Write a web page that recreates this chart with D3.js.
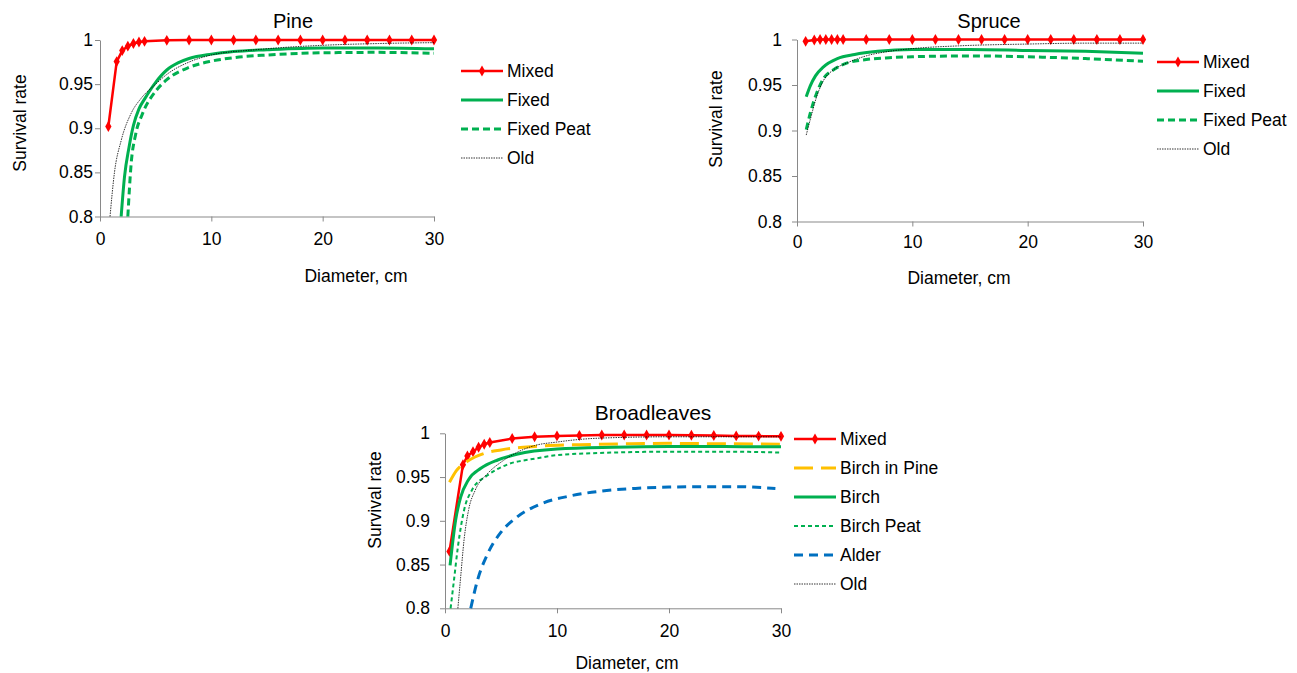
<!DOCTYPE html>
<html>
<head>
<meta charset="utf-8">
<script src="https://cdn.jsdelivr.net/npm/d3@7"></script>
<style>
  body { margin: 0; background: #fff; }
  svg { font-family: "Liberation Sans", Arial, sans-serif; }
</style>
</head>
<body>
<div class="container"></div>
<script>
// size of the page
var w = 1297;
var h = 673;

// shared ticks
var xTicks = [0, 10, 20, 30];
var yTicks = [0.8, 0.85, 0.9, 0.95, 1];

// Pine  [diameter, survival]
var pineMixed = [[0.75,0.902],[1.5,0.9755],[2,0.988],[2.5,0.993],[3,0.996],[3.5,0.9977],[4,0.9985],[6,0.9996],[8,1],[10,1],[12,1],[14,1],[16,1],[18,1],[20,1],[22,1],[24,1],[26,1],[28,1],[30,1]];
var pineFixed = [[1.9,0.8],[2.2,0.845],[2.6,0.878],[3,0.903],[3.5,0.922],[4,0.933],[5,0.952],[6,0.966],[7,0.974],[8,0.979],[10,0.984],[12,0.987],[15,0.989],[20,0.991],[25,0.991],[30,0.990]];
var pineFixedPeat = [[2.5,0.8],[2.8,0.86],[3.2,0.893],[3.8,0.916],[5,0.942],[6,0.955],[8,0.969],[10,0.976],[12,0.980],[15,0.983],[20,0.9855],[25,0.986],[30,0.985]];
var pineOld = [[0.9,0.8],[1.3,0.85],[1.9,0.886],[2.8,0.917],[3.7,0.934],[5,0.950],[6,0.961],[8,0.975],[10,0.983],[14,0.989],[20,0.994],[25,0.996],[30,0.997]];

// Spruce
var spruceMixed = [[0.75,0.998],[1.5,0.9995],[2,1],[2.5,1],[3,1],[3.5,1],[4,1],[6,1],[8,1],[10,1],[12,1],[14,1],[16,1],[18,1],[20,1],[22,1],[24,1],[26,1],[28,1],[30,1]];
var spruceFixed = [[0.8,0.937],[1.15,0.949],[1.6,0.960],[2.3,0.970],[3.5,0.979],[5,0.9835],[7,0.987],[10,0.989],[15,0.989],[20,0.988],[25,0.987],[30,0.985]];
var spruceFixedPeat = [[0.8,0.901],[1.15,0.919],[1.7,0.941],[2.3,0.957],[3.2,0.967],[4.3,0.974],[6,0.978],[8,0.980],[10,0.981],[15,0.982],[20,0.981],[25,0.979],[30,0.976]];
var spruceOld = [[0.8,0.895],[1.15,0.912],[1.7,0.937],[2.3,0.955],[3.2,0.967],[4.3,0.974],[6,0.982],[8,0.987],[10,0.990],[14,0.993],[20,0.995],[25,0.996],[30,0.996]];

// Broadleaves
var blMixed = [[0.4,0.865],[1.6,0.964],[2,0.974],[2.5,0.979],[3,0.984],[3.5,0.9875],[4,0.9895],[6,0.994],[8,0.996],[10,0.997],[12,0.9975],[14,0.998],[16,0.998],[18,0.998],[20,0.998],[22,0.9978],[24,0.9975],[26,0.997],[28,0.9968],[30,0.9965]];
var blBirchInPine = [[0.4,0.944],[1,0.957],[2,0.968],[3.5,0.977],[5,0.981],[8,0.985],[12,0.987],[16,0.988],[20,0.9885],[25,0.988],[30,0.9875]];
var blBirch = [[0.45,0.849],[0.95,0.901],[1.4,0.927],[2.1,0.947],[3.2,0.960],[4.7,0.9695],[6.4,0.976],[10,0.982],[15,0.984],[20,0.9848],[25,0.9848],[30,0.9845]];
var blBirchPeat = [[0.5,0.8],[0.8,0.832],[1.15,0.87],[1.7,0.912],[2.4,0.935],[3.8,0.952],[5.5,0.964],[8,0.971],[10,0.975],[15,0.978],[20,0.979],[25,0.979],[30,0.978]];
var blAlder = [[2.3,0.8],[2.9,0.832],[3.8,0.862],[5,0.887],[6.4,0.904],[8.5,0.919],[11,0.928],[14,0.934],[17,0.937],[20,0.9385],[23,0.939],[26,0.939],[29.5,0.937]];
var blOld = [[1.15,0.8],[1.4,0.836],[1.7,0.878],[2.1,0.912],[2.7,0.935],[3.8,0.954],[5,0.967],[6.4,0.978],[8,0.986],[10,0.990],[12,0.993],[15,0.995],[20,0.996],[25,0.996],[30,0.996]];

// line styles
var styles = {
  mixed:    { color: "#ff0000", width: 2.5, dash: null, marker: true },
  fixed:    { color: "#00b050", width: 3, dash: null },
  fixedPeat:{ color: "#00b050", width: 3, dash: "7,4" },
  birchPine:{ color: "#ffc000", width: 3, dash: "19,8" },
  birchPeat:{ color: "#00b050", width: 2, dash: "4,3" },
  alder:    { color: "#0070c0", width: 3, dash: "9,6" },
  old:      { color: "#000000", width: 0.8, dash: "1.5,1" }
};

var svg = d3.select(".container")
  .append("svg")
  .attr("width", w)
  .attr("height", h);

function drawPanel(p) {
  var x = d3.scaleLinear().domain([0, 30]).range([p.left, p.right]);
  var y = d3.scaleLinear().domain([0.8, 1]).range([p.bottom, p.top]);
  var g = svg.append("g");

  var yAxis = g.append("g")
    .attr("transform", "translate(" + p.left + ",0)")
    .call(d3.axisLeft(y).tickValues(yTicks).tickSize(5).tickPadding(p.yPad).tickSizeOuter(0)
      .tickFormat(function(d) { return d === 1 ? "1" : String(+d.toFixed(2)); }));
  var xAxis = g.append("g")
    .attr("transform", "translate(0," + p.bottom + ")")
    .call(d3.axisBottom(x).tickValues(xTicks).tickSize(5).tickPadding(p.xPad).tickSizeOuter(0));

  [xAxis, yAxis].forEach(function(a) {
    a.selectAll("path, line").attr("stroke", "#898989").attr("stroke-width", 1);
    a.selectAll("text").attr("fill", "#000").attr("font-size", "17.5px")
      .attr("font-family", "Liberation Sans, Arial, sans-serif");
  });

  // series
  p.series.forEach(function(s) {
    var st = styles[s.style];
    var line = d3.line()
      .x(function(d) { return x(d[0]); })
      .y(function(d) { return y(d[1]); })
      .curve(st.marker ? d3.curveLinear : d3.curveMonotoneX);
    g.append("path")
      .datum(s.data)
      .attr("fill", "none")
      .attr("stroke", st.color)
      .attr("stroke-width", st.width)
      .attr("stroke-dasharray", st.dash)
      .attr("d", line);
    if (st.marker) {
      g.selectAll(null)
        .data(s.data)
        .enter().append("path")
        .attr("transform", function(d) { return "translate(" + x(d[0]) + "," + y(d[1]) + ")"; })
        .attr("d", d3.symbol().type(d3.symbolDiamond).size(34))
        .attr("fill", st.color);
    }
  });

  // titles
  g.append("text")
    .attr("x", p.titleX).attr("y", p.titleY)
    .attr("text-anchor", "middle")
    .attr("font-size", p.titleSize + "px")
    .attr("dominant-baseline", "central")
    .text(p.title);

  g.append("text")
    .attr("x", p.xTitleX).attr("y", p.xTitleY)
    .attr("text-anchor", "middle")
    .attr("font-size", "17.5px")
    .attr("dominant-baseline", "central")
    .text("Diameter, cm");

  g.append("text")
    .attr("transform", "translate(" + p.yTitleX + "," + p.yTitleY + ") rotate(-90)")
    .attr("text-anchor", "middle")
    .attr("font-size", "17.5px")
    .attr("dominant-baseline", "central")
    .text("Survival rate");

  // legend
  var leg = g.append("g");
  p.series.forEach(function(s, i) {
    var st = styles[s.style];
    var ly = p.legY + i * p.legStep;
    leg.append("line")
      .attr("x1", p.legX).attr("x2", p.legX + 42)
      .attr("y1", ly).attr("y2", ly)
      .attr("stroke", st.color)
      .attr("stroke-width", st.width)
      .attr("stroke-dasharray", st.dash);
    if (st.marker) {
      leg.append("path")
        .attr("transform", "translate(" + (p.legX + 21) + "," + ly + ")")
        .attr("d", d3.symbol().type(d3.symbolDiamond).size(34))
        .attr("fill", st.color);
    }
    leg.append("text")
      .attr("x", p.legX + 46).attr("y", ly)
      .attr("dominant-baseline", "central")
      .attr("font-size", "17.5px")
      .text(s.name);
  });
}

drawPanel({
  title: "Pine", titleX: 293, titleY: 21, titleSize: 20,
  left: 100, right: 434, top: 40, bottom: 216.5,
  yPad: 2, xPad: 11,
  xTitleX: 356, xTitleY: 276, yTitleX: 20, yTitleY: 123,
  legX: 461, legY: 71, legStep: 29,
  series: [
    { name: "Mixed", style: "mixed", data: pineMixed },
    { name: "Fixed", style: "fixed", data: pineFixed },
    { name: "Fixed Peat", style: "fixedPeat", data: pineFixedPeat },
    { name: "Old", style: "old", data: pineOld }
  ]
});

drawPanel({
  title: "Spruce", titleX: 989, titleY: 21, titleSize: 20,
  left: 797, right: 1143, top: 39.5, bottom: 221.5,
  yPad: 10, xPad: 9.5,
  xTitleX: 959, xTitleY: 278, yTitleX: 716, yTitleY: 119,
  legX: 1157, legY: 62, legStep: 29,
  series: [
    { name: "Mixed", style: "mixed", data: spruceMixed },
    { name: "Fixed", style: "fixed", data: spruceFixed },
    { name: "Fixed Peat", style: "fixedPeat", data: spruceFixedPeat },
    { name: "Old", style: "old", data: spruceOld }
  ]
});

drawPanel({
  title: "Broadleaves", titleX: 653, titleY: 412, titleSize: 21,
  left: 445, right: 781, top: 433.3, bottom: 608.3,
  yPad: 10, xPad: 11,
  xTitleX: 627, xTitleY: 663, yTitleX: 375, yTitleY: 500,
  legX: 794, legY: 439, legStep: 29,
  series: [
    { name: "Mixed", style: "mixed", data: blMixed },
    { name: "Birch in Pine", style: "birchPine", data: blBirchInPine },
    { name: "Birch", style: "fixed", data: blBirch },
    { name: "Birch Peat", style: "birchPeat", data: blBirchPeat },
    { name: "Alder", style: "alder", data: blAlder },
    { name: "Old", style: "old", data: blOld }
  ]
});
</script>
</body>
</html>
